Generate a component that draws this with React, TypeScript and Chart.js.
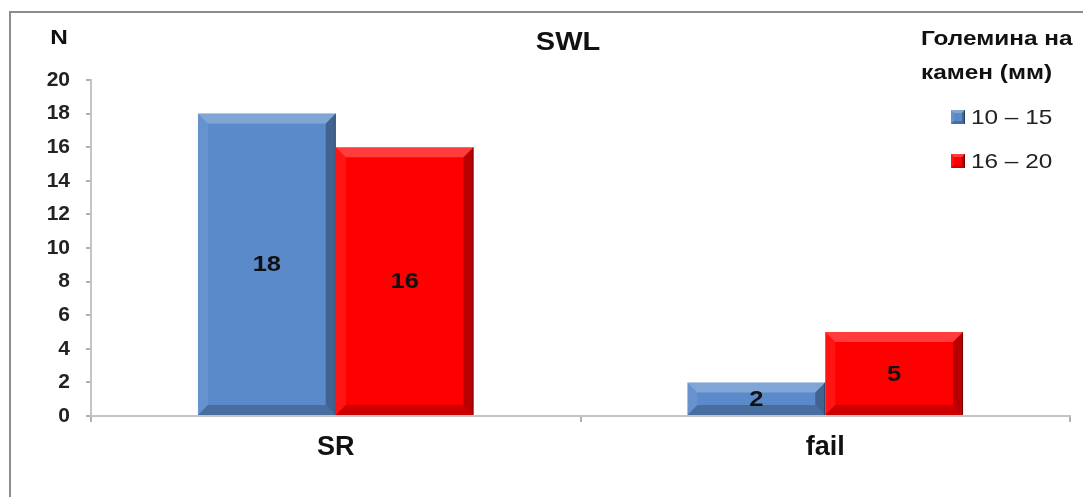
import React, { useEffect, useRef } from "react";
import { Chart, registerables } from "chart.js";

Chart.register(...registerables);

const categories = ["SR", "fail"];
const seriesNames = ["10 – 15", "16 – 20"];
const smallStones = [18, 2];
const largeStones = [16, 5];
const seriesColors = ["#5A8AC9", "#FF0000"];
const yTicks = [0, 2, 4, 6, 8, 10, 12, 14, 16, 18, 20];
const chartTitle = "SWL";
const yAxisTitle = "N";
const legendTitle = ["Големина на", "камен (мм)"];

const FONT = "'Liberation Sans', Arial, sans-serif";
const SX = 1.16;

function bevel(ctx: CanvasRenderingContext2D, l: number, t: number, r: number, b: number, s: number) {
  const h = b - t;
  const w = r - l;
  const k = Math.min(s, h / 2, w / 2);
  ctx.save();
  ctx.beginPath();
  ctx.moveTo(l, t); ctx.lineTo(r, t); ctx.lineTo(r - k, t + k); ctx.lineTo(l + k, t + k); ctx.closePath();
  ctx.fillStyle = "rgba(255,255,255,0.24)"; ctx.fill();
  ctx.beginPath();
  ctx.moveTo(l, t); ctx.lineTo(l + k, t + k); ctx.lineTo(l + k, b - k); ctx.lineTo(l, b); ctx.closePath();
  ctx.fillStyle = "rgba(255,255,255,0.08)"; ctx.fill();
  ctx.beginPath();
  ctx.moveTo(r, t); ctx.lineTo(r, b); ctx.lineTo(r - k, b - k); ctx.lineTo(r - k, t + k); ctx.closePath();
  ctx.fillStyle = "rgba(0,0,0,0.28)"; ctx.fill();
  ctx.beginPath();
  ctx.moveTo(l, b); ctx.lineTo(r, b); ctx.lineTo(r - k, b - k); ctx.lineTo(l + k, b - k); ctx.closePath();
  ctx.fillStyle = "rgba(0,0,0,0.20)"; ctx.fill();
  ctx.strokeStyle = "rgba(0,0,0,0.35)";
  ctx.lineWidth = 1;
  ctx.beginPath();
  ctx.moveTo(r - 0.5, t); ctx.lineTo(r - 0.5, b);
  ctx.stroke();
  ctx.restore();
}

function wideText(ctx: CanvasRenderingContext2D, text: string, x: number, y: number) {
  ctx.save();
  ctx.translate(x, y);
  ctx.scale(SX, 1);
  ctx.fillText(text, 0, 0);
  ctx.restore();
}

const decorPlugin = {
  id: "decor",
  afterDatasetsDraw(chart: any) {
    const ctx: CanvasRenderingContext2D = chart.ctx;
    chart.data.datasets.forEach((ds: any, di: number) => {
      const meta = chart.getDatasetMeta(di);
      meta.data.forEach((el: any, i: number) => {
        const p = el.getProps(["x", "y", "base", "width"], true);
        const l = p.x - p.width / 2;
        const r = p.x + p.width / 2;
        const t = Math.min(p.y, p.base);
        const b = Math.max(p.y, p.base);
        bevel(ctx, l, t, r, b, 10);
        ctx.save();
        ctx.fillStyle = "#111";
        ctx.font = `bold 22px ${FONT}`;
        ctx.textAlign = "center";
        ctx.textBaseline = "middle";
        wideText(ctx, String(ds.data[i]), p.x, (t + b) / 2 + 1);
        ctx.restore();
      });
    });
  },
  afterDraw(chart: any) {
    const ctx: CanvasRenderingContext2D = chart.ctx;
    ctx.save();
    ctx.fillStyle = "#111";
    ctx.textBaseline = "middle";
    ctx.textAlign = "center";
    ctx.font = `bold 25px ${FONT}`;
    wideText(ctx, chartTitle, 568, 43);
    ctx.font = `bold 21px ${FONT}`;
    wideText(ctx, yAxisTitle, 59, 38);
    ctx.textAlign = "left";
    ctx.font = `bold 21px ${FONT}`;
    wideText(ctx, legendTitle[0], 921, 39);
    wideText(ctx, legendTitle[1], 921, 73);
    ctx.font = `21px ${FONT}`;
    const ys = [117, 161];
    chart.data.datasets.forEach((ds: any, di: number) => {
      const y = ys[di];
      ctx.fillStyle = ds.backgroundColor;
      ctx.fillRect(951, y - 7, 14, 14);
      bevel(ctx, 951, y - 7, 965, y + 7, 3);
      ctx.fillStyle = "#222";
      wideText(ctx, ds.label, 971, y + 1);
    });
    ctx.restore();
  },
};

export default function App() {
  const ref = useRef<HTMLCanvasElement | null>(null);
  useEffect(() => {
    if (!ref.current) return;
    const chart = new Chart(ref.current, {
      type: "bar",
      data: {
        labels: categories,
        datasets: [
          { label: seriesNames[0], data: smallStones, backgroundColor: seriesColors[0], borderWidth: 0 },
          { label: seriesNames[1], data: largeStones, backgroundColor: seriesColors[1], borderWidth: 0 },
        ],
      },
      options: {
        responsive: false,
        animation: false,
        devicePixelRatio: 1,
        layout: { padding: { top: 80, right: 13, left: 0, bottom: 0 } },
        datasets: { bar: { categoryPercentage: 0.563, barPercentage: 1 } },
        plugins: { legend: { display: false }, title: { display: false }, tooltip: { enabled: false } },
        scales: {
          x: {
            afterFit: (s: any) => { s.height = 81; },
            grid: { offset: true, drawOnChartArea: false, tickLength: 6, color: "#b0b0b0", lineWidth: 2 },
            border: { color: "#c4c4c4", width: 2 },
            ticks: { color: "#111", font: { family: FONT, size: 27, weight: "bold" }, padding: 9 },
          },
          y: {
            min: 0,
            max: 20,
            afterFit: (s: any) => { s.width = 91; },
            afterBuildTicks: (s: any) => { s.ticks = yTicks.map((v) => ({ value: v })); },
            grid: { drawOnChartArea: false, tickLength: 5, color: "#b0b0b0", lineWidth: 2 },
            border: { color: "#c4c4c4", width: 2 },
            ticks: { color: "#222", font: { family: FONT, size: 21, weight: "bold" }, padding: 16 },
          },
        },
      },
      plugins: [decorPlugin],
    } as any);
    return () => chart.destroy();
  }, []);
  return (
    <div style={{ position: "absolute", left: 0, top: 0, width: 1083, height: 497, background: "#fff", overflow: "hidden" }}>
      <div style={{ position: "absolute", left: 9, top: 11, width: 1100, height: 520, borderLeft: "2px solid #8c8c8c", borderTop: "2px solid #8c8c8c" }} />
      <canvas ref={ref} width={1083} height={497} style={{ position: "absolute", left: 0, top: 0 }} />
    </div>
  );
}
